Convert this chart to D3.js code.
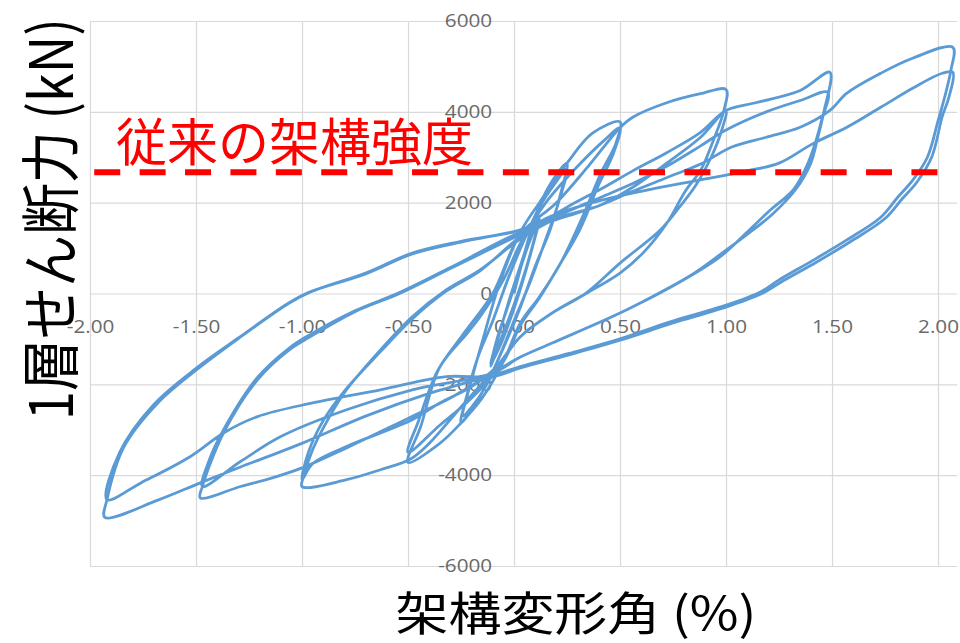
<!DOCTYPE html>
<html>
<head>
<meta charset="utf-8">
<script src="https://cdn.jsdelivr.net/npm/d3@7"></script>
<style>
  body { margin: 0; background: #fff; }
  svg { display: block; }
</style>
</head>
<body>
<svg id="chart" width="960" height="643"></svg>
<script>
// Axis ticks: story drift angle (%) and 1st-story shear (kN)
const driftTicks = [-2, -1.5, -1, -0.5, 0, 0.5, 1, 1.5, 2];
const driftTickLabels = ["-2.00", "-1.50", "-1.00", "-0.50", "0.00", "0.50", "1.00", "1.50", "2.00"];
const shearTicks = [-6000, -4000, -2000, 0, 2000, 4000, 6000];
const shearTickLabels = ["-6000", "-4000", "-2000", "0", "2000", "4000", "6000"];

// Conventional frame strength (kN)
const frameStrength = 2670;
const strengthLabel = "従来の架構強度";

// Loading history, one array per half cycle: [drift angle %, shear kN]
const h00a = [[0, 0], [0.04, 700], [0.08, 1300], [0.12, 1700]];
const h00b = [[0.09, 1100], [0.04, 300], [-0.02, -500], [-0.07, -1100], [-0.11, -1600]];
const h00c = [[-0.08, -1000], [-0.03, -300], [0.02, 400], [0.07, 1100], [0.12, 1650]];
const h00d = [[0.08, 900], [0.03, 100], [-0.02, -600], [-0.07, -1200], [-0.11, -1550]];
const h01 = [[-0.07, -900], [-0.02, -100], [0.05, 900], [0.1, 1700], [0.17, 2400], [0.25, 2870]];
const h02 = [[0.22, 2200], [0.17, 1400], [0.1, 600], [0.03, -300], [-0.05, -1200], [-0.12, -1900], [-0.19, -2500], [-0.25, -2850]];
const h03 = [[-0.22, -2200], [-0.17, -1400], [-0.1, -600], [-0.03, 300], [0.05, 1200], [0.12, 1900], [0.19, 2400], [0.25, 2750]];
const h04 = [[0.21, 2000], [0.15, 1200], [0.08, 300], [0, -600], [-0.07, -1400], [-0.14, -2100], [-0.2, -2500], [-0.24, -2700]];
const h05 = [[-0.2, -1900], [-0.14, -900], [-0.07, 200], [0.03, 1350], [0.12, 2000], [0.25, 2870], [0.37, 3530], [0.5, 3780]];
const h06 = [[0.48, 3300], [0.41, 2650], [0.33, 1760], [0.22, 670], [0.12, -70], [0.03, -650], [-0.05, -1500], [-0.15, -2300], [-0.25, -2850], [-0.35, -3300], [-0.5, -3720]];
const h07 = [[-0.44, -2930], [-0.35, -1620], [-0.22, -870], [-0.16, -510], [-0.05, 300], [0.03, 1100], [0.15, 2000], [0.3, 2800], [0.42, 3350], [0.5, 3650]];
const h08 = [[0.47, 3100], [0.4, 2400], [0.31, 1400], [0.22, 670], [0.12, -100], [0.03, -700], [-0.05, -1500], [-0.2, -2300], [-0.35, -2900], [-0.5, -3500]];
const h09 = [[-0.45, -2800], [-0.36, -1700], [-0.24, -900], [-0.1, 0], [0.03, 1300], [0.2, 2000], [0.35, 2800], [0.5, 3650], [0.56, 3880], [0.72, 4200], [0.88, 4400], [1.0, 4490]];
const h10 = [[0.99, 4030], [0.94, 3370], [0.88, 2710], [0.81, 2270], [0.72, 1540], [0.61, 900], [0.5, 450], [0.34, 0], [0.18, -430], [0.03, -950], [-0.08, -1600], [-0.25, -2500], [-0.4, -3300], [-0.49, -3650], [-0.63, -3880], [-0.79, -4100], [-1.0, -4250]];
const h11 = [[-0.99, -4000], [-0.95, -3440], [-0.87, -2710], [-0.79, -2120], [-0.63, -1240], [-0.48, -510], [-0.32, 80], [-0.16, 520], [0.03, 1200], [0.2, 1650], [0.41, 1950], [0.56, 2340], [0.72, 2870], [0.88, 3440], [1.0, 4030]];
const h12 = [[0.98, 3600], [0.93, 3000], [0.86, 2400], [0.78, 1900], [0.69, 1400], [0.5, 670], [0.34, 10], [0.18, -430], [0.03, -950], [-0.08, -1600], [-0.2, -2050], [-0.35, -2410], [-0.48, -2780], [-0.79, -3370], [-0.95, -3750], [-1.0, -4100]];
const h13 = [[-0.97, -3500], [-0.9, -2800], [-0.8, -2150], [-0.63, -1280], [-0.48, -560], [-0.32, 50], [-0.16, 500], [0.03, 1250], [0.25, 1900], [0.41, 2300], [0.56, 2700], [0.72, 3100], [0.88, 3550], [1.0, 4030], [1.14, 4200], [1.35, 4470], [1.49, 4870]];
const h14 = [[1.46, 3970], [1.43, 3380], [1.4, 2870], [1.33, 2300], [1.22, 1750], [1.1, 1300], [0.97, 850], [0.85, 450], [0.72, 100], [0.5, -430], [0.18, -1090], [0.03, -1400], [-0.1, -1750], [-0.3, -2300], [-0.5, -2750], [-0.79, -3400], [-1.0, -3840], [-1.14, -4060], [-1.29, -4250], [-1.48, -4500]];
const h15 = [[-1.47, -4250], [-1.37, -3070], [-1.21, -1900], [-1.06, -1240], [-0.96, -950], [-0.75, -400], [-0.54, 0], [-0.3, 550], [0.03, 1300], [0.25, 1800], [0.41, 2120], [0.56, 2420], [0.72, 2800], [0.88, 3250], [1.0, 3600], [1.19, 4000], [1.35, 4250], [1.48, 4430]];
const h16 = [[1.45, 3800], [1.42, 3300], [1.38, 2800], [1.32, 2300], [1.2, 1800], [1.11, 1400], [0.97, 800], [0.74, 140], [0.5, -430], [0.18, -1090], [0.03, -1400], [-0.1, -1750], [-0.48, -2120], [-0.79, -2560], [-1.1, -3150], [-1.29, -3700], [-1.47, -4250]];
const h17 = [[-1.44, -3700], [-1.37, -3000], [-1.21, -1850], [-1.06, -1200], [-0.96, -900], [-0.75, -380], [-0.54, 20], [-0.3, 570], [0.03, 1350], [0.25, 1700], [0.41, 1950], [0.56, 2250], [0.72, 2550], [0.88, 2850], [1.03, 3230], [1.19, 3440], [1.35, 3660], [1.49, 4030], [1.57, 4410], [1.73, 4850], [1.88, 5180], [2.07, 5420]];
const h18 = [[2.06, 4900], [2.03, 4300], [2.0, 3800], [1.95, 3000], [1.88, 2490], [1.81, 2120], [1.73, 1680], [1.57, 1180], [1.41, 730], [1.25, 300], [1.16, 30], [0.97, -300], [0.74, -620], [0.5, -1000], [0.26, -1320], [0.03, -1610], [-0.1, -1800], [-0.4, -2200], [-0.7, -2700], [-1.0, -3300], [-1.29, -3820], [-1.48, -4170], [-1.68, -4550], [-1.93, -4930]];
const h19 = [[-1.92, -4540], [-1.84, -3377], [-1.68, -2409], [-1.48, -1617], [-1.29, -957], [-1.06, -209], [-0.96, 33], [-0.7, 450], [-0.48, 890], [-0.25, 1150], [0.03, 1400], [0.2, 1750], [0.41, 2050], [0.65, 2300], [0.88, 2500], [1.1, 2700], [1.25, 2870], [1.41, 3300], [1.57, 3660], [1.73, 4100], [1.88, 4520], [2.02, 4850], [2.07, 4870]];
const h20 = [[2.05, 4300], [2.02, 3900], [1.97, 3000], [1.9, 2450], [1.83, 2080], [1.75, 1650], [1.59, 1150], [1.43, 700], [1.27, 280], [1.17, 0], [0.98, -330], [0.75, -650], [0.5, -1030], [0.26, -1350], [0.03, -1640], [-0.1, -1830], [-0.32, -1830], [-0.63, -2120], [-0.95, -2410], [-1.21, -2710], [-1.37, -3070], [-1.53, -3600], [-1.76, -4170], [-1.92, -4540]];
const h21 = [[-1.86, -3500], [-1.7, -2450], [-1.5, -1650], [-1.3, -980], [-1.07, -230], [-0.97, 20], [-0.7, 430], [-0.48, 870], [-0.25, 1130], [0, 1350]];

const halfCycles = [h00a, h00b, h00c, h00d, h01, h02, h03, h04, h05, h06, h07, h08, h09, h10,
  h11, h12, h13, h14, h15, h16, h17, h18, h19, h20, h21];

const svg = d3.select("#chart");

// Plot frame
const x = d3.scaleLinear().domain([-2, 2.09]).range([90, 957.1]);
const y = d3.scaleLinear().domain([-6000, 6000]).range([566, 21]);
const gridColor = "#d9d9d9";
const tickFont = "'Open Sans', 'DejaVu Sans', sans-serif";
const tickColor = "#6a6a6a";
const stretch = 1.15;

// Vertical gridlines
svg.append("g")
  .attr("transform", `translate(0,${y(-6000)})`)
  .call(d3.axisBottom(x).tickValues(driftTicks).tickSize(-(y(-6000) - y(6000))).tickFormat(""))
  .call(g => g.select(".domain").remove())
  .call(g => g.selectAll("line").attr("stroke", gridColor).attr("stroke-width", 1.2));

// Horizontal gridlines
svg.append("g")
  .attr("transform", `translate(${x(-2)},0)`)
  .call(d3.axisLeft(y).tickValues(shearTicks).tickSize(-(x.range()[1] - x(-2))).tickFormat(""))
  .call(g => g.select(".domain").remove())
  .call(g => g.selectAll("line").attr("stroke", gridColor).attr("stroke-width", 1.2));

// Drift labels along the zero-shear line
svg.append("g")
  .attr("transform", `translate(0,${y(0)})`)
  .call(d3.axisBottom(x).tickValues(driftTicks).tickSize(0).tickPadding(27)
    .tickFormat((d, i) => driftTickLabels[i]))
  .call(g => g.select(".domain").remove())
  .call(g => g.selectAll("text")
    .attr("fill", tickColor).attr("font-size", 18).attr("font-family", tickFont)
    .attr("transform", `scale(${stretch},1)`));

// Shear labels beside the zero-drift line
svg.append("g")
  .attr("transform", `translate(${x(0)},0)`)
  .call(d3.axisLeft(y).tickValues(shearTicks).tickSize(0).tickPadding(19)
    .tickFormat((d, i) => shearTickLabels[i]))
  .call(g => g.select(".domain").remove())
  .call(g => g.selectAll("text")
    .attr("fill", tickColor).attr("font-size", 18).attr("font-family", tickFont)
    .attr("transform", `scale(${stretch},1)`));

// Hysteresis loops
const line = d3.line()
  .x(d => x(d[0]))
  .y(d => y(d[1]))
  .curve(d3.curveCatmullRom.alpha(0.5));

svg.append("path")
  .datum(halfCycles.flat())
  .attr("d", line)
  .attr("fill", "none")
  .attr("stroke", "#5b9bd5")
  .attr("stroke-width", 2.8)
  .attr("stroke-linejoin", "round");

// Conventional frame strength
svg.append("line")
  .attr("x1", x(-1.98)).attr("x2", x(2.0))
  .attr("y1", y(frameStrength)).attr("y2", y(frameStrength))
  .attr("stroke", "#ff0000")
  .attr("stroke-width", 6)
  .attr("stroke-dasharray", "26,19.4");

const cjkFont = "'Noto Sans CJK JP', 'Noto Sans', sans-serif";

svg.append("text")
  .attr("x", 116)
  .attr("y", 161)
  .attr("font-family", cjkFont)
  .attr("font-size", 51)
  .attr("fill", "#ff0000")
  .text(strengthLabel);

// Axis titles
svg.append("g")
  .attr("transform", `translate(576,630) scale(${stretch},1)`)
  .append("text")
  .attr("text-anchor", "middle")
  .attr("font-family", cjkFont)
  .attr("font-size", 46)
  .attr("fill", "#000")
  .text("架構変形角 (%)");

svg.append("g")
  .attr("transform", `translate(47,219) scale(${stretch},1) rotate(-90)`)
  .append("text")
  .attr("text-anchor", "middle")
  .attr("dominant-baseline", "central")
  .attr("font-family", cjkFont)
  .attr("font-size", 52)
  .attr("fill", "#000")
  .text("1層せん断力 (kN)");
</script>
</body>
</html>
